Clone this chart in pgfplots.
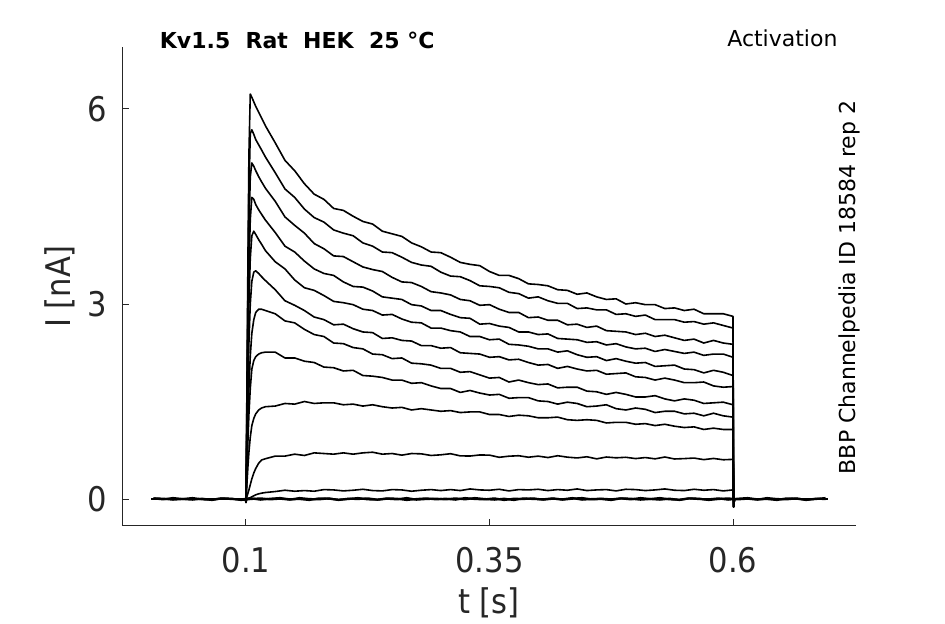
\documentclass[border=0pt]{standalone}
\usepackage{fontspec}
\setmainfont{DejaVu Sans}
\newfontfamily\condfont{DejaVu Sans Condensed}
\usepackage{pgfplots}
\usepackage{pgfplotstable}
\pgfplotsset{compat=1.18}
\definecolor{axisgray}{rgb}{0.15,0.15,0.15}

\pgfplotstableread{
t y1 y2 y3 y4 y5 y6 y7 y8 y9 y10 y11
0.003 0 0 0 0 0 0 0 0 0 0 0
0.0995 0 0 0 0 0 0 0 0 0 0 0
0.1 -0.05 -0.05 -0.05 -0.05 -0.05 -0.05 -0.05 -0.05 -0.05 -0.05 -0.05
0.101 1.8 1.6 1.4 1.2 1.0 0.8 0.6 0.45 0.25 0.04 0
0.102 3.7 3.3 2.9 2.5 2.1 1.7 1.2 0.9 0.5 0.09 0.01
0.103 5.3 4.7 4.1 3.5 3.0 2.4 1.7 1.3 0.72 0.14 0.015
0.1044 6.23 5.62 4.95 4.3 3.7 3.0 2.2 1.7 0.95 0.22 0.02
0.106 6.18 5.68 5.17 4.64 4.05 3.35 2.55 2.0 1.13 0.31 0.035
0.108 6.11 5.61 5.12 4.61 4.12 3.49 2.76 2.13 1.24 0.40 0.05
0.11 6.04 5.53 5.05 4.53 4.07 3.51 2.87 2.19 1.31 0.47 0.065
0.113 5.95 5.45 4.96 4.45 3.99 3.47 2.92 2.23 1.37 0.55 0.08
0.116 5.86 5.37 4.88 4.38 3.92 3.42 2.92 2.25 1.40 0.60 0.09
0.12 5.74 5.26 4.78 4.29 3.82 3.36 2.90 2.26 1.42 0.62 0.10
0.13 5.48 5.02 4.58 4.10 3.65 3.22 2.85 2.26 1.43 0.66 0.115
0.14 5.21 4.77 4.34 3.89 3.54 3.05 2.74 2.17 1.47 0.66 0.135
0.15 5.05 4.64 4.21 3.80 3.37 2.98 2.71 2.17 1.46 0.69 0.12
0.16 4.85 4.46 4.09 3.66 3.25 2.90 2.61 2.12 1.50 0.67 0.13
0.17 4.69 4.33 3.93 3.54 3.21 2.80 2.53 2.10 1.47 0.71 0.12
0.18 4.61 4.26 3.85 3.47 3.13 2.76 2.50 2.03 1.48 0.70 0.145
0.19 4.47 4.14 3.74 3.44 3.04 2.68 2.40 2.02 1.48 0.69 0.14
0.20 4.44 4.09 3.73 3.34 3.02 2.69 2.39 1.97 1.45 0.71 0.125
0.21 4.35 4.05 3.65 3.27 2.99 2.62 2.33 1.98 1.46 0.69 0.135
0.22 4.27 3.94 3.57 3.26 2.92 2.57 2.31 1.90 1.43 0.71 0.15
0.23 4.23 3.89 3.53 3.20 2.90 2.56 2.23 1.89 1.45 0.72 0.13
0.24 4.12 3.80 3.50 3.11 2.83 2.47 2.22 1.87 1.42 0.69 0.125
0.25 4.08 3.79 3.41 3.09 2.84 2.48 2.16 1.83 1.40 0.70 0.145
0.26 4.04 3.72 3.34 3.07 2.77 2.44 2.17 1.83 1.41 0.675 0.14
0.27 3.94 3.64 3.33 2.99 2.72 2.43 2.09 1.78 1.37 0.70 0.12
0.28 3.88 3.60 3.27 2.97 2.71 2.36 2.08 1.79 1.39 0.695 0.135
0.29 3.80 3.58 3.19 2.90 2.63 2.36 2.06 1.74 1.37 0.67 0.145
0.30 3.79 3.49 3.17 2.90 2.63 2.32 2.01 1.70 1.35 0.68 0.13
0.31 3.72 3.43 3.14 2.84 2.59 2.33 2.01 1.70 1.36 0.697 0.145
0.32 3.64 3.42 3.07 2.79 2.57 2.25 1.95 1.64 1.33 0.664 0.13
0.33 3.61 3.36 3.05 2.78 2.50 2.24 1.96 1.67 1.34 0.661 0.155
0.34 3.59 3.28 2.98 2.69 2.50 2.23 1.91 1.63 1.34 0.678 0.14
0.35 3.50 3.27 2.99 2.70 2.45 2.18 1.86 1.60 1.30 0.675 0.135
0.36 3.44 3.25 2.92 2.66 2.46 2.19 1.87 1.61 1.30 0.642 0.15
0.37 3.44 3.18 2.87 2.64 2.38 2.14 1.80 1.55 1.27 0.659 0.125
0.38 3.39 3.16 2.87 2.57 2.37 2.15 1.83 1.56 1.29 0.666 0.145
0.39 3.31 3.09 2.79 2.57 2.35 2.10 1.79 1.56 1.28 0.643 0.14
0.40 3.30 3.11 2.80 2.53 2.31 2.06 1.76 1.51 1.25 0.66 0.15
0.41 3.28 3.05 2.75 2.54 2.31 2.07 1.77 1.50 1.25 0.638 0.13
0.42 3.22 3.01 2.75 2.47 2.26 2.01 1.71 1.46 1.26 0.666 0.145
0.43 3.21 3.01 2.68 2.46 2.28 2.04 1.72 1.49 1.22 0.644 0.135
0.44 3.15 2.93 2.69 2.45 2.22 2.00 1.72 1.47 1.21 0.632 0.155
0.45 3.17 2.94 2.64 2.41 2.18 1.97 1.66 1.42 1.22 0.65 0.13
0.46 3.11 2.91 2.66 2.42 2.19 1.98 1.65 1.43 1.21 0.618 0.14
0.47 3.07 2.91 2.59 2.37 2.13 1.92 1.61 1.45 1.17 0.646 0.145
0.48 3.08 2.84 2.58 2.39 2.16 1.93 1.64 1.39 1.18 0.634 0.125
0.49 3.00 2.85 2.57 2.34 2.12 1.94 1.61 1.37 1.18 0.642 0.15
0.50 3.02 2.81 2.53 2.31 2.09 1.88 1.57 1.40 1.15 0.622 0.145
0.51 2.99 2.83 2.55 2.32 2.10 1.87 1.57 1.38 1.16 0.638 0.13
0.52 2.99 2.76 2.50 2.27 2.04 1.83 1.59 1.33 1.13 0.618 0.14
0.53 2.93 2.76 2.52 2.30 2.05 1.86 1.54 1.35 1.15 0.646 0.155
0.54 2.94 2.76 2.48 2.27 2.06 1.83 1.51 1.35 1.12 0.616 0.135
0.55 2.90 2.72 2.44 2.24 2.00 1.79 1.54 1.31 1.10 0.622 0.13
0.56 2.92 2.73 2.46 2.26 1.99 1.79 1.52 1.32 1.11 0.63 0.15
0.57 2.85 2.69 2.40 2.21 1.94 1.80 1.47 1.28 1.07 0.606 0.135
0.58 2.85 2.71 2.44 2.23 1.98 1.74 1.48 1.32 1.09 0.624 0.145
0.59 2.85 2.67 2.40 2.23 1.95 1.72 1.49 1.28 1.07 0.604 0.125
0.60 2.81 2.63 2.38 2.18 1.90 1.73 1.45 1.26 1.07 0.61 0.14
0.6006 -0.12 -0.12 -0.12 -0.12 -0.12 -0.12 -0.12 -0.12 -0.12 -0.12 -0.12
0.6015 0 0 0 0 0 0 0 0 0 0 0
0.697 0 0 0 0 0 0 0 0 0 0 0
}\traces

\pgfplotstableread{
t z1 z2
0.005 0.01 0.01
0.015 -0.005 0.005
0.025 0.015 -0.01
0.035 0 0
0.045 -0.01 0.015
0.055 0.005 -0.005
0.065 -0.015 -0.01
0.075 0.01 0.01
0.085 0 0.005
0.095 -0.005 -0.015
0.105 0.01 0
0.115 -0.01 0.01
0.125 0.005 -0.005
0.135 0.015 0.005
0.145 -0.005 -0.01
0.155 0 0.015
0.165 -0.015 0
0.175 0.01 -0.005
0.185 0.005 0.01
0.195 -0.01 -0.015
0.205 0 0.005
0.215 0.015 0
0.225 -0.005 0.01
0.235 -0.01 -0.01
0.245 0.01 0.005
0.255 0.005 -0.005
0.265 -0.015 0.015
0.275 0 -0.01
0.285 0.01 0
0.295 -0.005 0.005
0.305 0.005 -0.005
0.315 -0.01 0.01
0.325 0.015 -0.005
0.335 0 0.015
0.345 -0.005 0
0.355 0.01 -0.01
0.365 -0.015 0.005
0.375 0.005 -0.015
0.385 0 0.01
0.395 0.01 0
0.405 -0.01 -0.005
0.415 0.005 0.01
0.425 -0.005 -0.01
0.435 0.015 0.005
0.445 -0.01 0.015
0.455 0 -0.005
0.465 0.005 0
0.475 -0.005 -0.015
0.485 0.01 0.01
0.495 -0.005 0.005
0.505 0.015 -0.01
0.515 0 0
0.525 -0.01 0.015
0.535 0.005 -0.005
0.545 -0.015 -0.01
0.555 0.01 0.01
0.565 0 0.005
0.575 -0.005 -0.015
0.585 0.01 0
0.595 -0.01 0.01
0.605 0.005 -0.005
0.615 0.015 0.005
0.625 -0.005 -0.01
0.635 0 0.015
0.645 -0.015 0
0.655 0.01 -0.005
0.665 0.005 0.01
0.675 -0.01 -0.015
0.685 0 0.005
0.695 0.015 0
}\base

\begin{document}
\begin{tikzpicture}
\useasboundingbox (-61pt,-49pt) rectangle (411.5pt,263pt);
\begin{axis}[
  scale only axis,
  width=367pt, height=239.5pt,
  xmin=-0.0273, xmax=0.7263,
  ymin=-0.415, ymax=6.954,
  axis x line*=bottom, axis y line*=left,
  x axis line style={-}, y axis line style={-},
  axis line style={draw=axisgray, line width=0.5pt},
  xtick={0.1,0.35,0.6}, xticklabels={0.1,0.35,0.6},
  ytick={0,3,6}, yticklabels={0,3,6},
  tick align=inside,
  major tick length=3.5pt,
  tick style={draw=axisgray, line width=0.5pt},
  xticklabel style={font=\condfont\fontsize{17}{20}\selectfont, text=axisgray, anchor=center, yshift=-17pt, inner sep=0pt},
  yticklabel style={font=\condfont\fontsize{17}{20}\selectfont, text=axisgray, anchor=east, xshift=-7.5pt, inner sep=0pt},
]
\addplot[black, solid, line width=1.1pt, line join=round, mark=none] table[x=t, y=z1]{\base};
\addplot[black, solid, line width=1.1pt, line join=round, mark=none] table[x=t, y=z2]{\base};
\pgfplotsinvokeforeach{1,...,11}{
  \addplot[black, solid, line width=0.8pt, line join=round, mark=none] table[x=t, y=y#1]{\traces};
}
\end{axis}
\node[font=\condfont\fontsize{17}{20}\selectfont, text=axisgray] at (183.5pt,-38.5pt) {t [s]};
\node[font=\condfont\fontsize{17}{20}\selectfont, text=axisgray, rotate=90] at (-31pt,119.75pt) {I [nA]};
\node[font=\bfseries\fontsize{11}{13}\selectfont] at (87.6pt,243pt) {Kv1.5\ \ Rat\ \ HEK\ \ 25 °C};
\node[font=\fontsize{11}{13}\selectfont] at (330.2pt,244pt) {Activation};
\node[font=\fontsize{11}{13}\selectfont, rotate=90] at (363.5pt,119.25pt) {BBP Channelpedia ID 18584 rep 2};
\end{tikzpicture}
\end{document}
